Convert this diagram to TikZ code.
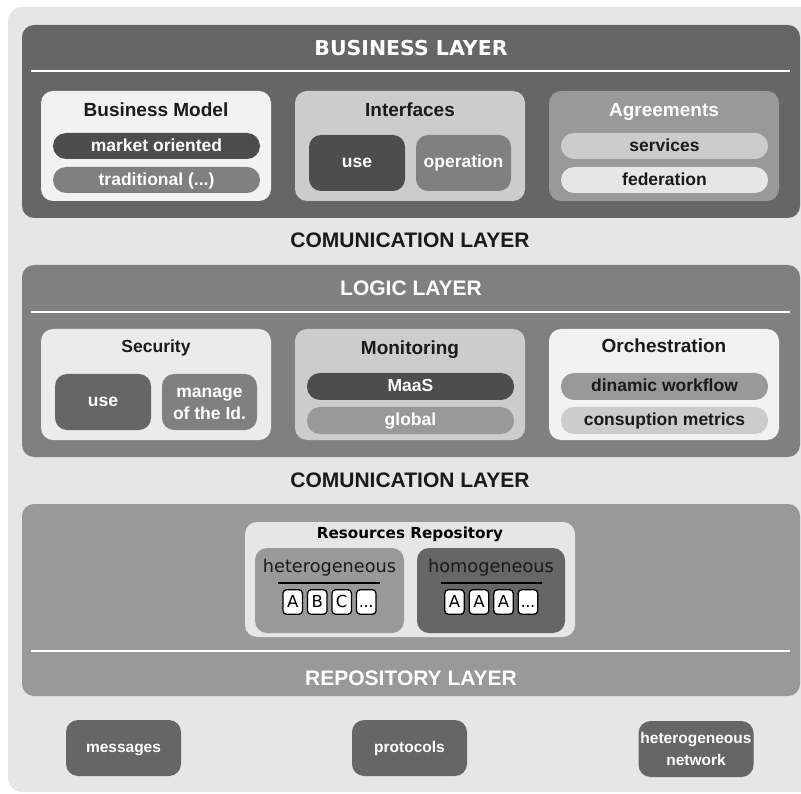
\documentclass[tikz,border=0pt]{standalone}
\usepackage{fontspec}
\setmainfont{Liberation Sans}
\newfontfamily\dv{DejaVu Sans}
\definecolor{gA}{HTML}{E6E6E6}
\definecolor{gB}{HTML}{666666}
\definecolor{gC}{HTML}{808080}
\definecolor{gD}{HTML}{999999}
\definecolor{gE}{HTML}{F2F2F2}
\definecolor{gF}{HTML}{CCCCCC}
\definecolor{gG}{HTML}{4D4D4D}
\definecolor{gH}{HTML}{EBEBEB}
\definecolor{txt}{HTML}{1A1A1A}
\tikzset{
  box/.style={rectangle, rounded corners=12pt, inner sep=0pt, draw=none},
  panel/.style={box, minimum width=230pt, minimum height=110pt},
  pill/.style={rectangle, rounded corners=13pt, inner sep=0pt, minimum width=207pt, minimum height=26pt, text height=14pt, text depth=3.5pt, font=\bfseries\fontsize{17.5}{18}\selectfont},
  sq/.style={box, minimum width=95pt, minimum height=56pt, font=\bfseries\fontsize{17.5}{21}\selectfont, align=center, text=white},
  layertitle/.style={text=white, font=\bfseries\fontsize{21}{22}\selectfont, inner sep=0pt, anchor=base},
  ptitle/.style={font=\bfseries\fontsize{19}{20}\selectfont, inner sep=0pt, anchor=base},
  sep/.style={white, line width=1.6pt},
  letter/.style={rectangle, rounded corners=3.5pt, draw=black, line width=1.3pt, fill=white, minimum width=19.5pt, minimum height=24.5pt, inner sep=0pt, text height=11.5pt, text depth=0pt, font=\dv\fontsize{16.5}{17}\selectfont},
  bottom/.style={box, fill=gB, minimum width=115pt, minimum height=56pt, text=white, align=center, font=\bfseries\fontsize{15.5}{23}\selectfont},
}
\begin{document}
\begin{tikzpicture}[x=1pt,y=-1pt]
\useasboundingbox (0,0) rectangle (801,794);
% background
\node[box, rounded corners=14pt, fill=gA, minimum width=810pt, minimum height=785pt] (bg) at (413,399.5) {};
% ---------- business layer
\node[box, fill=gB, minimum width=778pt, minimum height=193pt] (bus) at (411,121.5) {};
\coordinate (bL) at (31,71);
\coordinate (bR) at (790,71);
\draw[sep] (bL) -- (bR);
\node[text=white, font=\dv\bfseries\fontsize{20.5}{22}\selectfont, inner sep=0pt, anchor=base] (bustitle) at (411,55.5) {BUSINESS LAYER};
\node[panel, fill=gE] (bm) at (156,146) {};
\node[ptitle, text=txt] (bmt) at (156,117) {Business Model};
\node[pill, fill=gG, text=white] (mo) at (156.5,146) {market oriented};
\node[pill, fill=gC, text=white] (tr) at (156.5,180) {traditional (...)};
\node[panel, fill=gF] (inf) at (410,146) {};
\node[ptitle, text=txt] (inft) at (410,117) {Interfaces};
\node[sq, fill=gG, minimum width=96pt] (use1) at (357,163) {use};
\node[sq, fill=gC] (oper) at (463.5,163) {operation};
\node[panel, fill=gD] (agr) at (664,146) {};
\node[ptitle, text=white] (agrt) at (664,117) {Agreements};
\node[pill, fill=gF, text=txt] (serv) at (664.5,146) {services};
\node[pill, fill=gA, text=txt] (fed) at (664.5,180) {federation};
% ---------- communication 1
\node[layertitle, text=txt] (com1) at (410,247.5) {COMUNICATION LAYER};
% ---------- logic layer
\node[box, fill=gC, minimum width=778pt, minimum height=192pt] (log) at (411,361) {};
\coordinate (lL) at (31,312);
\coordinate (lR) at (790,312);
\draw[sep] (lL) -- (lR);
\node[layertitle] (logt) at (411,296) {LOGIC LAYER};
\node[panel, fill=gH, minimum height=111pt] (sec) at (156,384.5) {};
\node[font=\bfseries\fontsize{17.5}{18}\selectfont, inner sep=0pt, text=txt, anchor=base] (sect) at (156,352.5) {Security};
\node[sq, fill=gB, minimum width=96pt] (use2) at (103,402) {use};
\node[sq, fill=gC] (man) at (209.5,402) {};
\node[font=\bfseries\fontsize{17.5}{21.5}\selectfont, align=center, text=white, inner sep=0pt] (mant) at (209.5,404) {manage\\of the Id.};
\node[panel, fill=gF, minimum height=111pt] (mon) at (410,384.5) {};
\node[ptitle, text=txt] (mont) at (410,354.5) {Monitoring};
\node[pill, fill=gG, text=white, minimum height=27pt] (maas) at (410.5,386.5) {MaaS};
\node[pill, fill=gD, text=white, minimum height=27pt] (glob) at (410.5,420.5) {global};
\node[panel, fill=gE, minimum height=111pt] (orc) at (664,384.5) {};
\node[ptitle, text=txt] (orct) at (664,352.5) {Orchestration};
\node[pill, fill=gD, text=txt, minimum height=27pt] (dw) at (664.5,386.5) {dinamic workflow};
\node[pill, fill=gF, text=txt, minimum height=27pt] (cm) at (664.5,420.5) {consuption metrics};
% ---------- communication 2
\node[layertitle, text=txt] (com2) at (410,487) {COMUNICATION LAYER};
% ---------- repository layer
\node[box, fill=gD, minimum width=778pt, minimum height=192pt] (rep) at (411,600) {};
\coordinate (rL) at (31,651);
\coordinate (rR) at (790,651);
\draw[sep] (rL) -- (rR);
\node[layertitle] (rept) at (411,685) {REPOSITORY LAYER};
\node[box, fill=gA, minimum width=330pt, minimum height=115pt] (rr) at (410,579.5) {};
\node[font=\dv\bfseries\fontsize{15.2}{16}\selectfont, inner sep=0pt, text=black, anchor=base] (rrt) at (410,538.5) {Resources Repository};
% heterogeneous
\node[box, fill=gD, minimum width=149pt, minimum height=85pt] (het) at (329.5,590.5) {};
\node[font=\dv\fontsize{17.7}{18}\selectfont, inner sep=0pt, text=txt, anchor=base] (hett) at (329.5,572) {heterogeneous};
\coordinate (hl1) at (278,583);
\coordinate (hl2) at (380,583);
\draw[black, line width=1.5pt] (hl1) -- (hl2);
\node[letter] (h1) at (292.75,602) {A};
\node[letter] (h2) at (317.25,602) {B};
\node[letter] (h3) at (341.75,602) {C};
\node[letter] (h4) at (366.25,602) {.\kern-0.5pt.\kern-0.5pt.};
% homogeneous
\node[box, fill=gB, minimum width=148pt, minimum height=85pt] (hom) at (491,590.5) {};
\node[font=\dv\fontsize{17.7}{18}\selectfont, inner sep=0pt, text=txt, anchor=base] (homt) at (491,572) {homogeneous};
\coordinate (ml1) at (441,583);
\coordinate (ml2) at (542,583);
\draw[black, line width=1.5pt] (ml1) -- (ml2);
\node[letter] (a1) at (454.5,602) {A};
\node[letter] (a2) at (479,602) {A};
\node[letter] (a3) at (503.5,602) {A};
\node[letter] (a4) at (528,602) {.\kern-0.5pt.\kern-0.5pt.};
% ---------- bottom
\node[bottom, text height=12pt, text depth=4pt] (msg) at (123.5,748) {messages};
\node[bottom, text height=12pt, text depth=4pt] (prot) at (409.5,748) {protocols};
\node[bottom, font=\bfseries\fontsize{15.5}{22}\selectfont] (net) at (696,749) {heterogeneous\\network};
\end{tikzpicture}
\end{document}
